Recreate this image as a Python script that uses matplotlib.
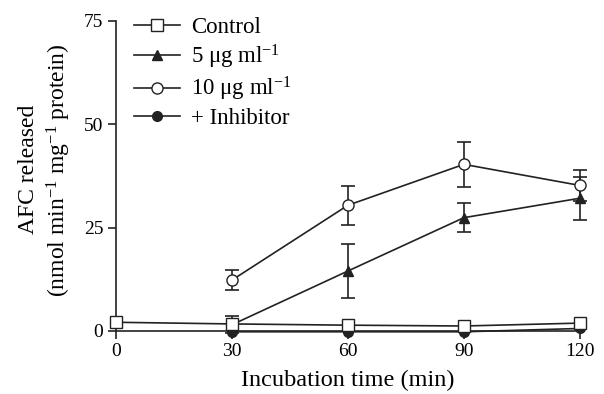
import matplotlib
matplotlib.use("Agg")
import matplotlib.pyplot as plt
from matplotlib.lines import Line2D

plt.rcParams["font.family"] = ["Liberation Serif", "DejaVu Serif"]
plt.rcParams["mathtext.fontset"] = "custom"
plt.rcParams["mathtext.rm"] = "Liberation Serif"
plt.rcParams["mathtext.it"] = "Liberation Serif:italic"

# data
time_ctrl = [0, 30, 60, 90, 120]
ctrl = [2.1, 1.7, 1.4, 1.2, 1.9]

time_5 = [30, 60, 90, 120]
dose5 = [1.5, 14.5, 27.4, 32.1]
dose5_err = [2.1, 6.5, 3.5, 5.2]

time_10 = [30, 60, 90, 120]
dose10 = [12.3, 30.4, 40.3, 35.2]
dose10_err = [2.5, 4.7, 5.4, 3.8]

time_inh = [30, 60, 90, 120]
inhib = [-0.2, -0.2, -0.2, 0.6]

labels = ["Control", r"5 μg ml$^{-1}$", r"10 μg ml$^{-1}$", "+ Inhibitor"]
ink = "#222222"

fig = plt.figure(figsize=(6.04, 3.94), dpi=100)
ax = fig.add_axes([0.192, 0.160, 0.768, 0.787])

lw = 1.2
ebkw = dict(capsize=5, elinewidth=lw, capthick=lw, ecolor=ink, clip_on=False)

ax.plot(time_inh, inhib, "-o", color=ink, lw=lw, ms=7, mfc=ink,
        clip_on=False, zorder=3)
ax.errorbar(time_5, dose5, yerr=dose5_err, fmt="-^", color=ink, lw=lw,
            ms=7, mfc=ink, zorder=4, **ebkw)
ax.errorbar(time_10, dose10, yerr=dose10_err, fmt="-o", color=ink, lw=lw,
            ms=8, mfc="white", zorder=5, **ebkw)
ax.plot(time_ctrl, ctrl, "-s", color=ink, lw=lw, ms=8, mfc="white",
        clip_on=False, zorder=6)

ax.set_xlim(0, 120)
ax.set_ylim(0, 75)
ax.set_xticks([0, 30, 60, 90, 120])
ax.set_yticks([0, 25, 50, 75])
ax.spines["top"].set_visible(False)
ax.spines["right"].set_visible(False)
for s in ("left", "bottom"):
    ax.spines[s].set_linewidth(lw)
    ax.spines[s].set_color(ink)
ax.tick_params(direction="out", length=6, width=lw, labelsize=14,
               color=ink, pad=3)

ax.set_xlabel("Incubation time (min)", fontsize=17.5, labelpad=7)
ax.set_ylabel("AFC released\n" + r"(nmol min$^{-1}$ mg$^{-1}$ protein)",
              fontsize=17, linespacing=1.3)
ax.yaxis.set_label_coords(-0.092, 0.52)

handles = [
    Line2D([], [], color=ink, lw=lw, marker="s", ms=8, mfc="white"),
    Line2D([], [], color=ink, lw=lw, marker="^", ms=7, mfc=ink),
    Line2D([], [], color=ink, lw=lw, marker="o", ms=8, mfc="white"),
    Line2D([], [], color=ink, lw=lw, marker="o", ms=7, mfc=ink),
]
ax.legend(handles, labels, loc="upper left", bbox_to_anchor=(0.188, 1.01),
          bbox_transform=fig.transFigure, frameon=False, fontsize=16.5,
          handlelength=2.0, handletextpad=0.5, labelspacing=0.2)

fig.savefig("out.png", dpi=100)
